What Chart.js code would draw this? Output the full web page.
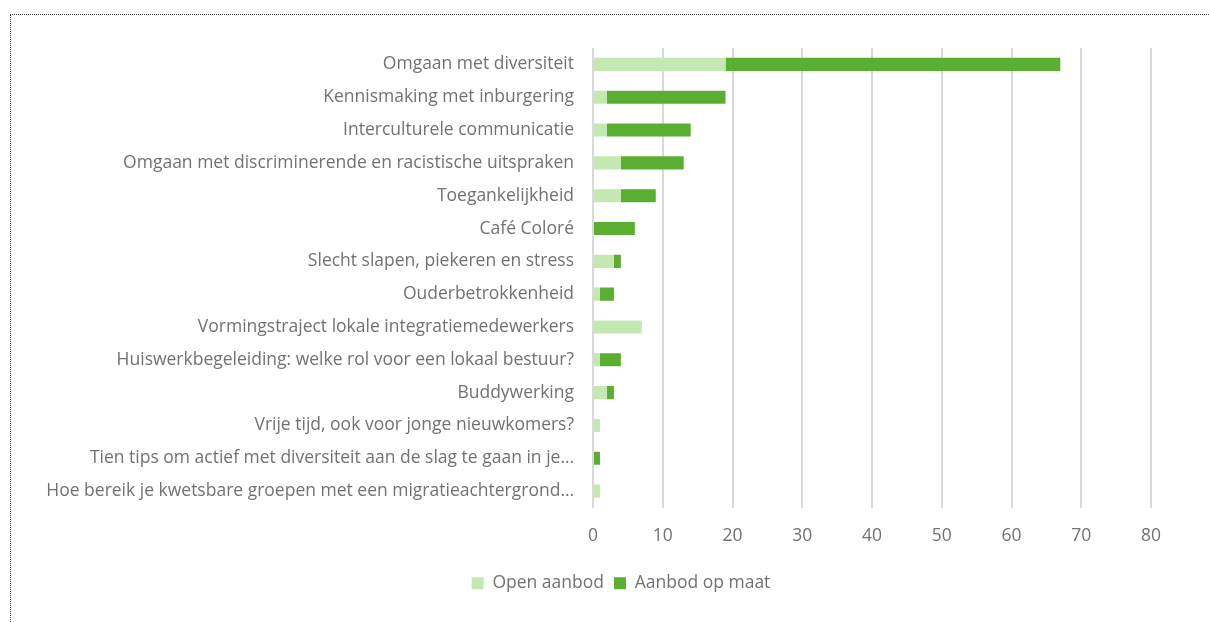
<!DOCTYPE html>
<html>
<head>
<meta charset="utf-8">
<script src="https://cdn.jsdelivr.net/npm/chart.js@4/dist/chart.umd.min.js"></script>
<style>
    html, body { margin: 0; padding: 0; background: #fff; overflow: hidden; }
    #frame {
        position: absolute; left: 10px; top: 14px; width: 1199px; height: 608px;
        border-top: 1px dotted #444; border-left: 1px dotted #444;
        box-sizing: border-box;
    }
    #wrap { position: absolute; left: 0; top: 0; width: 1198px; height: 607px; }
</style>
</head>
<body>
<div id="frame"><div id="wrap"><canvas id="chart"></canvas></div></div>
<script>
// categorieën (zoals in de grafiek, ingekort met …)
const categories = [
    'Omgaan met diversiteit',
    'Kennismaking met inburgering',
    'Interculturele communicatie',
    'Omgaan met discriminerende en racistische uitspraken',
    'Toegankelijkheid',
    'Café Coloré',
    'Slecht slapen, piekeren en stress',
    'Ouderbetrokkenheid',
    'Vormingstraject lokale integratiemedewerkers',
    'Huiswerkbegeleiding: welke rol voor een lokaal bestuur?',
    'Buddywerking',
    'Vrije tijd, ook voor jonge nieuwkomers?',
    'Tien tips om actief met diversiteit aan de slag te gaan in je…',
    'Hoe bereik je kwetsbare groepen met een migratieachtergrond…'
];
const openAanbod    = [19, 2, 2, 4, 4, 0, 3, 1, 7, 1, 2, 1, 0, 1];
const aanbodOpMaat  = [48, 17, 12, 9, 5, 6, 1, 2, 0, 3, 1, 0, 1, 0];
const xTicks = [0, 10, 20, 30, 40, 50, 60, 70, 80];

const textColor = '#727272';
const font = { family: '"Open Sans", sans-serif', size: 17.5 };

// legenda iets naar rechts schuiven, zoals in het origineel
const legendShift = {
    id: 'legendShift',
    afterLayout(chart) { chart.legend.left += 80; }
};

new Chart(document.getElementById('chart'), {
    type: 'bar',
    data: {
        labels: categories,
        datasets: [{
            label: 'Open aanbod',
            data: openAanbod,
            backgroundColor: '#c3e8b1',
            barPercentage: 0.4,
            categoryPercentage: 1
        }, {
            label: 'Aanbod op maat',
            data: aanbodOpMaat,
            backgroundColor: '#5aae32',
            barPercentage: 0.4,
            categoryPercentage: 1
        }]
    },
    options: {
        indexAxis: 'y',
        responsive: true,
        maintainAspectRatio: false,
        animation: false,
        layout: { padding: { left: 0, right: 58, top: 33, bottom: 20 } },
        scales: {
            x: {
                stacked: true,
                min: xTicks[0],
                max: xTicks[xTicks.length - 1],
                afterBuildTicks: axis => { axis.ticks = xTicks.map(v => ({ value: v })); },
                grid: { color: '#d9d9d9', lineWidth: 2, drawTicks: false },
                border: { display: false },
                ticks: { color: textColor, font: font, padding: 18 },
                afterFit: axis => { axis.height = 57; }
            },
            y: {
                stacked: true,
                grid: { display: false, drawTicks: false },
                border: { display: false },
                ticks: { color: textColor, font: font, padding: 19, autoSkip: false },
                afterFit: axis => { axis.width = 582; }
            }
        },
        plugins: {
            legend: {
                position: 'bottom',
                labels: {
                    color: textColor,
                    font: font,
                    boxWidth: 12,
                    boxHeight: 12,
                    padding: 10
                }
            },
            tooltip: { enabled: false }
        }
    },
    plugins: [legendShift]
});
</script>
</body>
</html>
